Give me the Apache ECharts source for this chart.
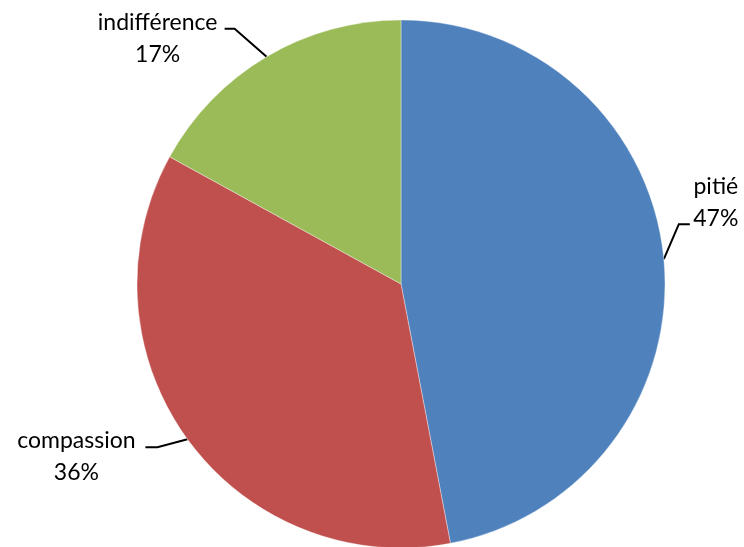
<!DOCTYPE html>
<html>
<head>
<meta charset="utf-8">
<script src="https://cdn.jsdelivr.net/npm/echarts@6/dist/echarts.min.js"></script>
<style>
  html, body { margin: 0; padding: 0; background: #fff; }
  #chart { width: 744px; height: 547px; }
</style>
</head>
<body>
<div id="chart"></div>
<script>
// Categories and their shares (%)
var categories = ['pitié', 'compassion', 'indifférence'];
var shares = [47, 36, 17];
var colors = ['#4F81BD', '#C0504D', '#9BBB59'];

// Label placement relative to the leader-line anchor on the slice edge:
// elbow / end of the leader line and centre of the text block.
var labelPlacement = {
  'pitié':        { elbow: [15, -35], end: [26, -35], text: [52, -57] },
  'compassion':   { elbow: [-30, 8],  end: [-42, 8],  text: [-111, 17] },
  'indifférence': { elbow: [-32, -28], end: [-42, -28], text: [-109, -18] }
};

var chart = echarts.init(document.getElementById('chart'), null, { renderer: 'canvas' });

var pieData = categories.map(function (name, i) {
  return { name: name, value: shares[i], itemStyle: { color: colors[i] } };
});

chart.setOption({
  animation: false,
  backgroundColor: '#ffffff',
  series: [{
    type: 'pie',
    center: [401, 284],
    radius: 264,
    startAngle: 90,
    clockwise: true,
    data: pieData,
    itemStyle: { borderColor: 'rgba(255,255,255,0.6)', borderWidth: 0.6 },
    label: {
      show: true,
      position: 'outside',
      formatter: function (p) { return p.name + '\n' + p.value + '%'; },
      fontFamily: 'Lato',
      fontSize: 23,
      lineHeight: 32,
      color: '#000',
      align: 'center'
    },
    labelLine: {
      show: true,
      length: 10,
      length2: 10,
      smooth: false,
      lineStyle: { color: '#000', width: 2 }
    },
    emphasis: { disabled: true },
    labelLayout: function (params) {
      var name = categories[params.dataIndex];
      var pl = labelPlacement[name];
      var a = params.labelLinePoints[0];
      return {
        x: a[0] + pl.text[0],
        y: a[1] + pl.text[1],
        align: 'center',
        verticalAlign: 'middle',
        labelLinePoints: [
          [a[0], a[1]],
          [a[0] + pl.elbow[0], a[1] + pl.elbow[1]],
          [a[0] + pl.end[0], a[1] + pl.end[1]]
        ]
      };
    }
  }]
});
</script>
</body>
</html>
